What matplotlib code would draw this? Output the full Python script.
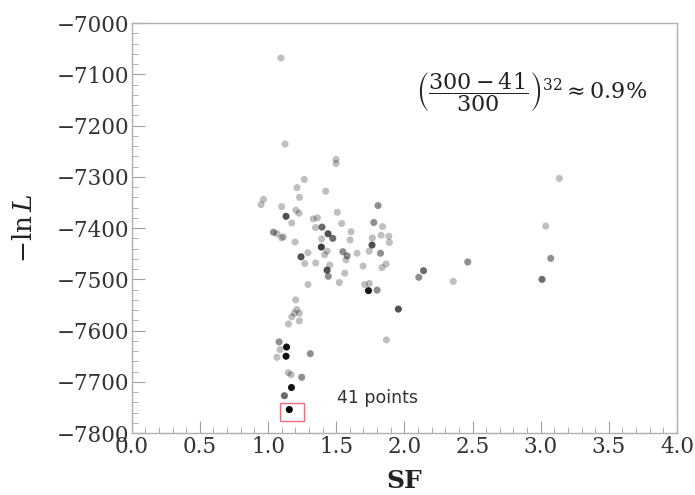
import matplotlib
matplotlib.use("Agg")
import matplotlib.pyplot as plt
from matplotlib.patches import Rectangle
import numpy as np

# Scale factor (SF) and objective value (-ln L) of each distinct optimum,
# together with how many of the runs ended up there.
sf = [1.095, 1.125, 1.499, 1.499, 1.266, 1.213, 1.423, 1.231, 0.966, 0.949,
      1.807, 1.100, 1.205, 1.227, 1.508, 1.132, 1.174, 1.332, 1.362, 1.541,
      1.776, 1.840, 1.040, 1.066, 1.349, 1.396, 1.440, 1.475, 1.609, 1.112,
      1.100, 1.198, 1.393, 1.602, 1.829, 1.886, 1.765, 1.391, 1.763, 1.890,
      1.293, 1.242, 1.415, 1.434, 1.549, 1.580, 1.653, 1.742, 1.825, 1.269,
      1.350, 1.572, 1.453, 1.433, 1.697, 1.836, 1.866, 1.442, 1.563, 2.141,
      2.106, 1.523, 1.293, 1.709, 1.743, 1.737, 1.800, 1.956, 2.359, 2.465,
      3.137, 3.037, 3.074, 3.010, 1.203, 1.211, 1.193, 1.230, 1.230, 1.174,
      1.150, 1.081, 1.136, 1.088, 1.066, 1.132, 1.310, 1.149, 1.169, 1.247,
      1.172, 1.120, 1.156, 1.868]
neg_lnL = [-7068, -7236, -7266, -7274, -7305, -7321, -7328, -7340, -7344, -7354,
           -7356, -7358, -7365, -7371, -7369, -7377, -7390, -7382, -7380, -7391,
           -7389, -7397, -7408, -7411, -7399, -7398, -7411, -7420, -7407, -7417,
           -7419, -7427, -7421, -7423, -7414, -7416, -7419, -7437, -7433, -7428,
           -7448, -7456, -7452, -7445, -7446, -7454, -7449, -7445, -7449, -7469,
           -7468, -7462, -7472, -7482, -7474, -7477, -7470, -7494, -7488, -7483,
           -7496, -7506, -7510, -7510, -7508, -7522, -7521, -7558, -7504, -7466,
           -7303, -7396, -7459, -7500, -7540, -7559, -7566, -7566, -7581, -7573,
           -7587, -7622, -7632, -7637, -7652, -7650, -7645, -7682, -7686, -7691,
           -7711, -7727, -7754, -7618]
hits = [1, 1, 1, 1, 1, 1, 1, 1, 1, 1,
        2, 1, 1, 1, 1, 4, 1, 1, 1, 1,
        2, 1, 2, 1, 1, 3, 4, 3, 1, 1,
        1, 1, 1, 1, 1, 1, 1, 5, 4, 1,
        1, 4, 1, 1, 2, 2, 1, 1, 2, 1,
        1, 1, 1, 4, 1, 1, 1, 2, 1, 3,
        2, 1, 1, 1, 1, 8, 2, 4, 1, 2,
        1, 1, 2, 3, 1, 1, 1, 1, 1, 1,
        1, 2, 9, 1, 1, 9, 2, 1, 1, 2,
        9, 3, 41, 1]

best_label = "41 points"
formula = r"$\left(\dfrac{300-41}{300}\right)^{32}\approx 0.9\%$"

plt.rcParams["mathtext.fontset"] = "dejavuserif"
plt.rcParams["font.family"] = "DejaVu Serif"

fig = plt.figure(figsize=(6.95, 4.95), dpi=100)
ax = fig.add_axes([0.1895, 0.125, 0.7846, 0.8283])

# each run is drawn with a faint alpha, so repeated optima get darker
a = 0.25
alphas = 1 - (1 - a) ** np.asarray(hits, dtype=float)
colors = np.zeros((len(sf), 4))
colors[:, 3] = alphas
ax.scatter(sf, neg_lnL, s=26, c=colors, edgecolors="none", zorder=3)

# highlight the lowest optimum
i_best = int(np.argmin(neg_lnL))
bx, by = sf[i_best], neg_lnL[i_best]
ax.add_patch(Rectangle((bx - 0.068, by - 22), 0.174, 34, fill=False,
                       edgecolor="#e8707a", linewidth=1.0, zorder=4))
ax.text(1.505, -7732, best_label, family="DejaVu Sans", fontsize=12.5,
        color="#333333", ha="left", va="center")

ax.text(0.733, 0.832, formula, transform=ax.transAxes, fontsize=16,
        ha="center", va="center", color="#222222")

ax.set_xlim(0, 4)
ax.set_ylim(-7800, -7000)
ax.set_xticks(np.arange(0, 4.01, 0.5))
ax.set_xticks(np.arange(0, 4.01, 0.1), minor=True)
ax.set_yticks(np.arange(-7800, -6999, 100))
ax.set_yticks(np.arange(-7800, -6999, 20), minor=True)
ax.set_xticklabels([f"{v:.1f}" for v in np.arange(0, 4.01, 0.5)])

for sp in ax.spines.values():
    sp.set_color("#b0b0b0")
    sp.set_linewidth(1.0)
ax.tick_params(which="both", direction="in", colors="#a0a0a0",
               labelcolor="#333333", labelsize=15.5, pad=2,
               top=False, right=False)
ax.tick_params(which="major", length=9, width=0.8)
ax.tick_params(which="minor", length=4.5, width=0.6)

ax.set_xlabel("SF", fontsize=18, fontweight="bold", color="#222222", labelpad=8)
ax.set_ylabel(r"$-\ln L$", fontsize=19, color="#222222", labelpad=14)

fig.savefig("out.png", dpi=100)
